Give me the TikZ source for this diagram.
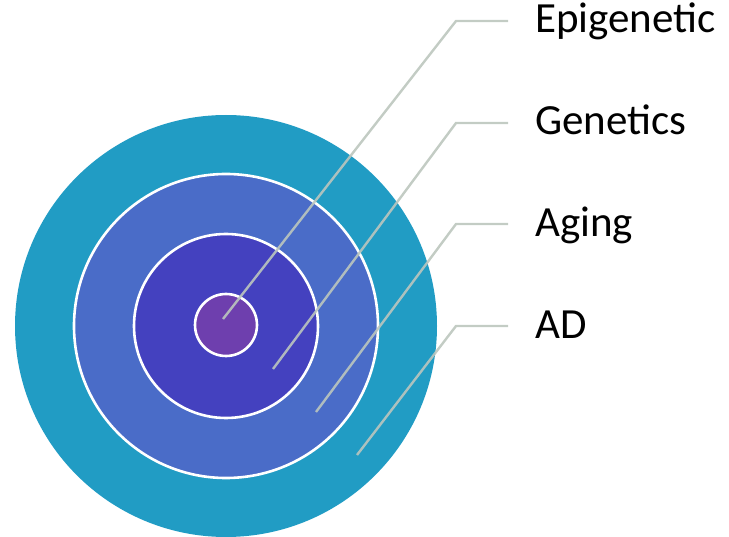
\documentclass[tikz,border=0pt]{standalone}
\usepackage{fontspec}
\setmainfont{Carlito}
\definecolor{ringA}{HTML}{219CC4}
\definecolor{ringB}{HTML}{4A6CC8}
\definecolor{ringC}{HTML}{4441BF}
\definecolor{ringD}{HTML}{6E3FAE}
\definecolor{leader}{HTML}{BCC6BE}
\begin{document}
\begin{tikzpicture}[x=1pt,y=-1pt,
  ring/.style={circle,inner sep=0pt,minimum size=#1},
  sep/.style={draw=white,line width=2.6pt},
  lab/.style={anchor=base west,inner sep=0pt,font=\fontsize{43}{50}\selectfont},
  lead/.style={draw=leader,line width=2.4pt,opacity=0.9}]
\useasboundingbox (0,0) rectangle (729,537);
\node[ring=422pt,fill=ringA] (ad) at (226,326) {};
\node[ring=304pt,fill=ringB,sep] (aging) at (226,326) {};
\node[ring=184pt,fill=ringC,sep] (gen) at (226,326) {};
\node[ring=62pt,fill=ringD,sep] (epi) at (226,325) {};
\node[lab] (tepi) at (535,33) {Epigenetic};
\node[lab] (tgen) at (535,135) {Genetics};
\node[lab] (tage) at (535,237) {Aging};
\node[lab] (tad) at (535,339) {AD};
\coordinate (e1) at (223,319);
\coordinate (k1) at (456,21);
\coordinate (h1) at (508,21);
\coordinate (e2) at (273,369);
\coordinate (k2) at (456,123);
\coordinate (h2) at (508,123);
\coordinate (e3) at (316,412);
\coordinate (k3) at (456,224);
\coordinate (h3) at (508,224);
\coordinate (e4) at (357,455);
\coordinate (k4) at (456,326);
\coordinate (h4) at (508,326);
\draw[lead] (e1) -- (k1) -- (h1);
\draw[lead] (e2) -- (k2) -- (h2);
\draw[lead] (e3) -- (k3) -- (h3);
\draw[lead] (e4) -- (k4) -- (h4);
\end{tikzpicture}
\end{document}
